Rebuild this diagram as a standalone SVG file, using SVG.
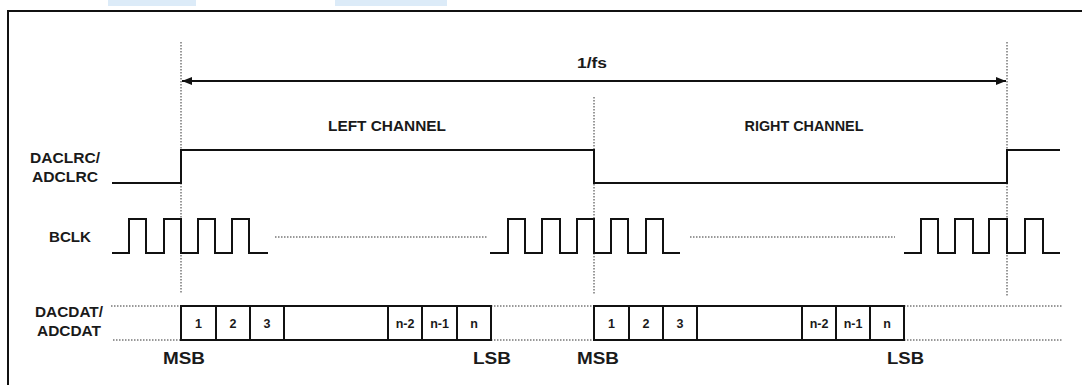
<svg xmlns="http://www.w3.org/2000/svg" width="1082" height="385" viewBox="0 0 1082 385">
<style>
.t{font-family:"Liberation Sans",Arial,sans-serif;font-weight:bold;fill:#1a1a1a}
.sig{fill:none;stroke:#111;stroke-width:2}
.dot{fill:none;stroke:#333;stroke-width:1;stroke-dasharray:1.5 1.5}
.box{fill:#fff;stroke:#111;stroke-width:2}
.lbl{font-size:14.5px}
.bit{font-size:12.5px;text-anchor:middle}
.big{font-size:17px}
</style>
<defs>
<marker id="ah" viewBox="0 0 10 8" refX="10" refY="4" markerWidth="10" markerHeight="8" markerUnits="userSpaceOnUse" orient="auto-start-reverse">
<path d="M0,0 L10,4 L0,8 Z" fill="#111"/>
</marker>
</defs>
<rect width="1082" height="385" fill="#fff"/>
<rect x="108" y="0" width="88" height="6" fill="#dcebf8"/>
<rect x="335" y="0" width="112" height="6" fill="#dcebf8"/>
<rect x="8" y="11" width="1090" height="390" fill="none" stroke="#111" stroke-width="2"/>

<g id="guides">
<line class="dot" x1="181" y1="42" x2="181" y2="294"/>
<line class="dot" x1="594" y1="97" x2="594" y2="294"/>
<line class="dot" x1="1007" y1="42" x2="1007" y2="296"/>
</g>

<g id="period">
<line x1="182" y1="81" x2="1006" y2="81" stroke="#111" stroke-width="2" marker-start="url(#ah)" marker-end="url(#ah)"/>
<text class="t lbl" x="592" y="68" text-anchor="middle" textLength="30" lengthAdjust="spacingAndGlyphs">1/fs</text>
</g>

<g id="channels">
<text class="t lbl" x="387" y="131" text-anchor="middle" textLength="118" lengthAdjust="spacingAndGlyphs">LEFT CHANNEL</text>
<text class="t lbl" x="804" y="131" text-anchor="middle" textLength="119" lengthAdjust="spacingAndGlyphs">RIGHT CHANNEL</text>
</g>

<g id="lrc">
<text class="t lbl" x="30" y="163" textLength="70" lengthAdjust="spacingAndGlyphs">DACLRC/</text>
<text class="t lbl" x="32" y="182" textLength="66" lengthAdjust="spacingAndGlyphs">ADCLRC</text>
<path class="sig" d="M112,183 H181 V150 H594 V183 H1007 V150 H1060"/>
</g>

<g id="bclk">
<text class="t lbl" x="49" y="242" textLength="42" lengthAdjust="spacingAndGlyphs">BCLK</text>
<path class="sig" d="M112,253 H129 V219 H146 V253 H164 V219 H181 V253 H198 V219 H215 V253 H232 V219 H249 V253 H268"/>
<line class="dot" x1="275" y1="237" x2="487" y2="237"/>
<path class="sig" d="M490,253 H508 V219 H525 V253 H542 V219 H560 V253 H577 V219 H594 V253 H611 V219 H628 V253 H646 V219 H663 V253 H680"/>
<line class="dot" x1="690" y1="237" x2="895" y2="237"/>
<path class="sig" d="M904,253 H921 V219 H938 V253 H955 V219 H973 V253 H989 V219 H1007 V253 H1025 V219 H1043 V253 H1060"/>
</g>

<g id="dat">
<text class="t lbl" x="35" y="317" textLength="68" lengthAdjust="spacingAndGlyphs">DACDAT/</text>
<text class="t lbl" x="37" y="336" textLength="64" lengthAdjust="spacingAndGlyphs">ADCDAT</text>
<line class="dot" x1="111" y1="306" x2="181" y2="306"/>
<line class="dot" x1="113" y1="340" x2="181" y2="340"/>
<line class="dot" x1="491" y1="306" x2="594" y2="306"/>
<line class="dot" x1="491" y1="340" x2="594" y2="340"/>
<line class="dot" x1="904" y1="306" x2="1062" y2="306"/>
<line class="dot" x1="904" y1="340" x2="1062" y2="340"/>
</g>

<g id="left-word">
<rect class="box" x="181" y="306" width="35" height="34"/>
<rect class="box" x="216" y="306" width="34" height="34"/>
<rect class="box" x="250" y="306" width="34" height="34"/>
<rect class="box" x="284" y="306" width="104" height="34"/>
<rect class="box" x="388" y="306" width="34" height="34"/>
<rect class="box" x="422" y="306" width="35" height="34"/>
<rect class="box" x="457" y="306" width="34" height="34"/>
<text class="t bit" x="198.5" y="328">1</text>
<text class="t bit" x="233" y="328">2</text>
<text class="t bit" x="267" y="328">3</text>
<text class="t bit" x="405" y="328">n-2</text>
<text class="t bit" x="439.5" y="328">n-1</text>
<text class="t bit" x="474" y="328">n</text>
<text class="t big" x="163" y="364" textLength="42" lengthAdjust="spacingAndGlyphs">MSB</text>
<text class="t big" x="473" y="364" textLength="38" lengthAdjust="spacingAndGlyphs">LSB</text>
</g>

<g id="right-word">
<rect class="box" x="594" y="306" width="35" height="34"/>
<rect class="box" x="629" y="306" width="34" height="34"/>
<rect class="box" x="663" y="306" width="34" height="34"/>
<rect class="box" x="697" y="306" width="105" height="34"/>
<rect class="box" x="802" y="306" width="34" height="34"/>
<rect class="box" x="836" y="306" width="34" height="34"/>
<rect class="box" x="870" y="306" width="34" height="34"/>
<text class="t bit" x="611.5" y="328">1</text>
<text class="t bit" x="646" y="328">2</text>
<text class="t bit" x="680" y="328">3</text>
<text class="t bit" x="819" y="328">n-2</text>
<text class="t bit" x="853" y="328">n-1</text>
<text class="t bit" x="887" y="328">n</text>
<text class="t big" x="577" y="364" textLength="42" lengthAdjust="spacingAndGlyphs">MSB</text>
<text class="t big" x="887" y="364" textLength="37" lengthAdjust="spacingAndGlyphs">LSB</text>
</g>
</svg>
